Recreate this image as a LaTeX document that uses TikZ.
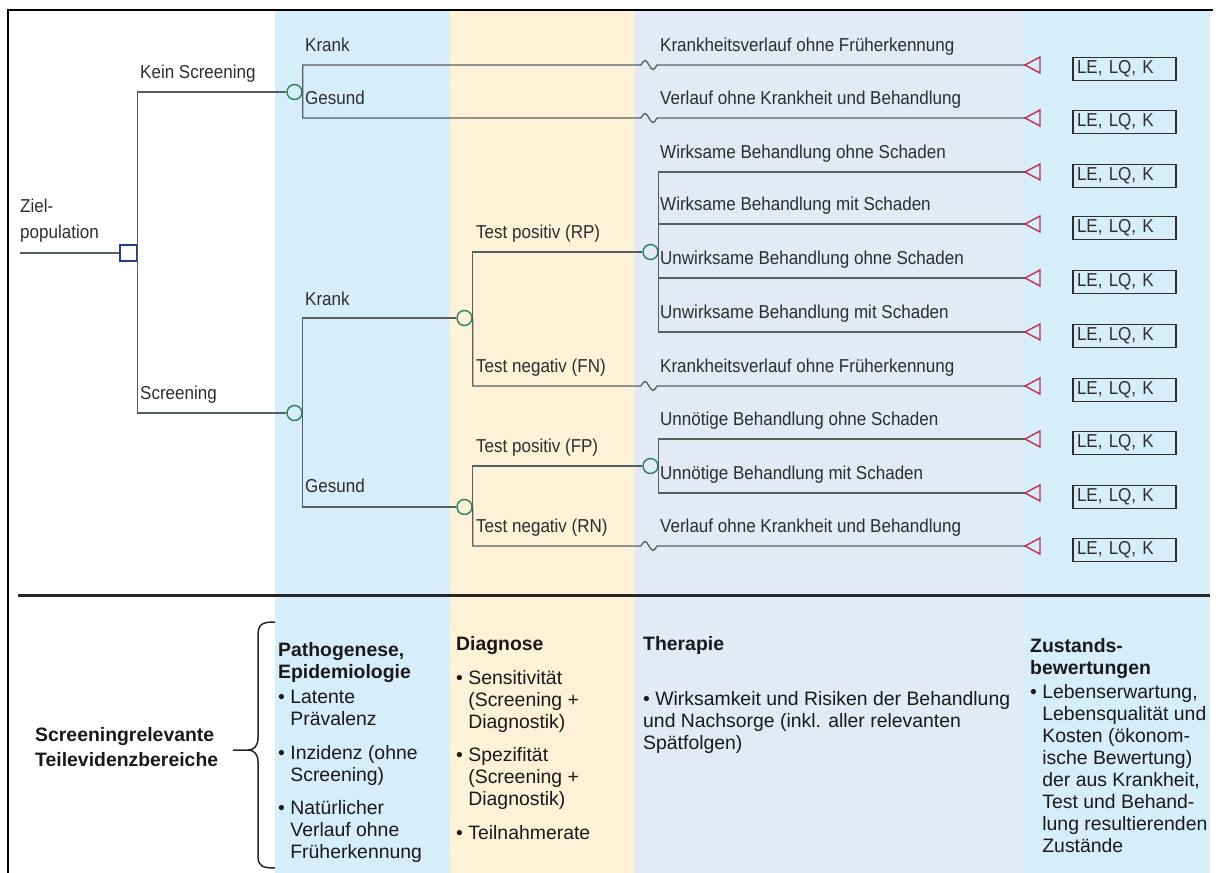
\documentclass[tikz,border=0pt]{standalone}
\usepackage{fontspec}
\setmainfont{Liberation Sans}
\newfontfamily\treefont[FakeStretch=0.91]{Liberation Sans}
\usepackage{xcolor}
\usepackage{tikz}

\definecolor{paneblue}{RGB}{214,238,250}
\definecolor{paneyellow}{RGB}{253,242,215}
\definecolor{panelav}{RGB}{227,234,246}
\definecolor{branchgray}{RGB}{85,95,95}
\definecolor{chancegreen}{RGB}{40,130,95}
\definecolor{decisionblue}{RGB}{35,60,140}
\definecolor{termred}{RGB}{195,45,75}
\definecolor{labelgray}{RGB}{45,45,45}

\newcommand{\itembul}{\textbullet\ }
\newcommand{\bulind}{\hphantom{\textbullet\ }}

\begin{document}
\begin{tikzpicture}[x=1pt, y=-1pt,
        branch/.style={draw=branchgray, line width=1.3pt},
        chance/.style={circle, draw=chancegreen, line width=1.4pt, minimum size=15pt, inner sep=0pt},
        decision/.style={rectangle, draw=decisionblue, line width=1.6pt, minimum width=17pt, minimum height=16pt, inner sep=0pt},
        term/.style={draw=termred, line width=1.4pt, line join=miter},
        squig/.style={insert path={sin ++(4,-4.5) cos ++(4,4.5) sin ++(4,4.5) cos ++(4,-4.5)}},
        lbl/.style={anchor=base west, inner sep=0pt, text=labelgray, font=\treefont\fontsize{18.7}{20}\selectfont},
        result/.style={draw=labelgray, line width=1.2pt, text width=95pt, inner xsep=4pt, inner ysep=0pt, minimum height=23pt, align=left, text=labelgray, font=\treefont\fontsize{18.7}{20}\selectfont},
        area/.style={anchor=north west, inner sep=0pt, align=left, text=black!90, font=\fontsize{19.4}{22}\selectfont}]
        \useasboundingbox (0,0) rectangle (1216,873);

        % column panes
        \fill[paneblue] (275,10) rectangle (450,873);
        \fill[paneyellow] (450,10) rectangle (635,873);
        \fill[panelav] (635,10) rectangle (1022,873);
        \fill[paneblue] (1022,10) rectangle (1210,873);
        \draw[line width=2pt] (8,873) -- (8,10) -- (1213,10);
        \draw[line width=3pt, black!85] (18,595) -- (1210,595);

        % decision and chance nodes
        \coordinate (in) at (20,253);
        \node[decision] (root) at (128.5,253) {};
        \node[chance] (c0) at (294.5,92) {};
        \node[chance] (c1) at (294.5,413) {};
        \node[chance] (c2) at (464.5,318) {};
        \node[chance] (c3) at (464.5,507) {};
        \node[chance] (c4) at (650.5,252) {};
        \node[chance] (c5) at (650.5,466) {};

        % terminal points and breaks
        \coordinate (t1) at (1025,65);
        \coordinate (t2) at (1025,118);
        \coordinate (t3) at (1025,172);
        \coordinate (t4) at (1025,224);
        \coordinate (t5) at (1025,278);
        \coordinate (t6) at (1025,332);
        \coordinate (t7) at (1025,386);
        \coordinate (t8) at (1025,439);
        \coordinate (t9) at (1025,493);
        \coordinate (t10) at (1025,546);
        \coordinate (j1) at (641,65);
        \coordinate (j2) at (641,118);
        \coordinate (j7) at (641,386);
        \coordinate (j10) at (641,546);

        % branches
        \draw[branch] (in) -- (root.west);
        \draw[branch] (root.east) |- (c0.west);
        \draw[branch] (root.east) |- (c1.west);
        \draw[branch] (c0.east) |- (j1) [squig] -- (t1);
        \draw[branch] (c0.east) |- (j2) [squig] -- (t2);
        \draw[branch] (c1.east) |- (c2.west);
        \draw[branch] (c1.east) |- (c3.west);
        \draw[branch] (c2.east) |- (c4.west);
        \draw[branch] (c2.east) |- (j7) [squig] -- (t7);
        \draw[branch] (c4.east) |- (t3);
        \draw[branch] (c4.east) |- (t4);
        \draw[branch] (c4.east) |- (t5);
        \draw[branch] (c4.east) |- (t6);
        \draw[branch] (c3.east) |- (c5.west);
        \draw[branch] (c3.east) |- (j10) [squig] -- (t10);
        \draw[branch] (c5.east) |- (t8);
        \draw[branch] (c5.east) |- (t9);

        % terminal triangles
        \draw[term] (t1) -- ++(15,-8) -- ++(0,16) -- cycle;
        \draw[term] (t2) -- ++(15,-8) -- ++(0,16) -- cycle;
        \draw[term] (t3) -- ++(15,-8) -- ++(0,16) -- cycle;
        \draw[term] (t4) -- ++(15,-8) -- ++(0,16) -- cycle;
        \draw[term] (t5) -- ++(15,-8) -- ++(0,16) -- cycle;
        \draw[term] (t6) -- ++(15,-8) -- ++(0,16) -- cycle;
        \draw[term] (t7) -- ++(15,-8) -- ++(0,16) -- cycle;
        \draw[term] (t8) -- ++(15,-8) -- ++(0,16) -- cycle;
        \draw[term] (t9) -- ++(15,-8) -- ++(0,16) -- cycle;
        \draw[term] (t10) -- ++(15,-8) -- ++(0,16) -- cycle;

        % outcome boxes
        \node[result] (e1) at (1124.5,69) {LE, LQ, K};
        \node[result] (e2) at (1124.5,122) {LE, LQ, K};
        \node[result] (e3) at (1124.5,176) {LE, LQ, K};
        \node[result] (e4) at (1124.5,228) {LE, LQ, K};
        \node[result] (e5) at (1124.5,282) {LE, LQ, K};
        \node[result] (e6) at (1124.5,336) {LE, LQ, K};
        \node[result] (e7) at (1124.5,390) {LE, LQ, K};
        \node[result] (e8) at (1124.5,443) {LE, LQ, K};
        \node[result] (e9) at (1124.5,497) {LE, LQ, K};
        \node[result] (e10) at (1124.5,550) {LE, LQ, K};

        % branch labels
        \node[lbl] (ziel) at (20,212) {Ziel-};
        \node[lbl] (pop) at (20,238) {population};
        \node[lbl] (ks) at (140,78) {Kein Screening};
        \node[lbl] (sc) at (140,399) {Screening};
        \node[lbl] (k0) at (305,51) {Krank};
        \node[lbl] (g0) at (305,104) {Gesund};
        \node[lbl] (k1) at (305,305) {Krank};
        \node[lbl] (g1) at (305,492) {Gesund};
        \node[lbl] (rp) at (476,238) {Test positiv (RP)};
        \node[lbl] (fn) at (476,372) {Test negativ (FN)};
        \node[lbl] (fp) at (476,452) {Test positiv (FP)};
        \node[lbl] (rn) at (476,532) {Test negativ (RN)};
        \node[lbl] (o1) at (660,51) {Krankheitsverlauf ohne Früherkennung};
        \node[lbl] (o2) at (660,104) {Verlauf ohne Krankheit und Behandlung};
        \node[lbl] (o3) at (660,158) {Wirksame Behandlung ohne Schaden};
        \node[lbl] (o4) at (660,210) {Wirksame Behandlung mit Schaden};
        \node[lbl] (o5) at (660,264) {Unwirksame Behandlung ohne Schaden};
        \node[lbl] (o6) at (660,318) {Unwirksame Behandlung mit Schaden};
        \node[lbl] (o7) at (660,372) {Krankheitsverlauf ohne Früherkennung};
        \node[lbl] (o8) at (660,425) {Unnötige Behandlung ohne Schaden};
        \node[lbl] (o9) at (660,479) {Unnötige Behandlung mit Schaden};
        \node[lbl] (o10) at (660,532) {Verlauf ohne Krankheit und Behandlung};

        % evidence areas below the tree
        \node[area] (teil) at (35,727) {\textbf{Screeningrelevante}\\[3pt]\textbf{Teilevidenzbereiche}};
        \draw[line width=1.5pt, black!85] (275,622) .. controls (262,622) and (258,624) .. (258,636) -- (258,738)
            .. controls (258,746) and (254,750) .. (248,750) -- (233,750);
        \draw[line width=1.5pt, black!85] (248,750) .. controls (254,750) and (258,754) .. (258,762) -- (258,856)
            .. controls (258,866) and (262,868) .. (275,868);
        \node[area] (pat) at (278,642) {\textbf{Pathogenese,}\\\textbf{Epidemiologie}\\[3pt]
            \itembul Latente\\\bulind Prävalenz\\[12pt]
            \itembul Inzidenz (ohne\\\bulind Screening)\\[11pt]
            \itembul Natürlicher\\\bulind Verlauf ohne\\\bulind Früherkennung};
        \node[area] (diag) at (456,636) {\textbf{Diagnose}\\[12pt]
            \itembul Sensitivität\\\bulind (Screening +\\\bulind Diagnostik)\\[11pt]
            \itembul Spezifität\\\bulind (Screening +\\\bulind Diagnostik)\\[12pt]
            \itembul Teilnahmerate};
        \node[area] (ther) at (643,636) {\textbf{Therapie}\\[33pt]
            \itembul Wirksamkeit und Risiken der Behandlung\\
            und Nachsorge (inkl. aller relevanten\\
            Spätfolgen)};
        \node[area] (zust) at (1030,638) {\textbf{Zustands-}\\\textbf{bewertungen}\\[2pt]
            \itembul Lebenserwartung,\\\bulind Lebensqualität und\\\bulind Kosten (ökonom-\\\bulind ische Bewertung)\\\bulind der aus Krankheit,\\\bulind Test und Behand-\\\bulind lung resultierenden\\\bulind Zustände};

    \end{tikzpicture}
\end{document}
